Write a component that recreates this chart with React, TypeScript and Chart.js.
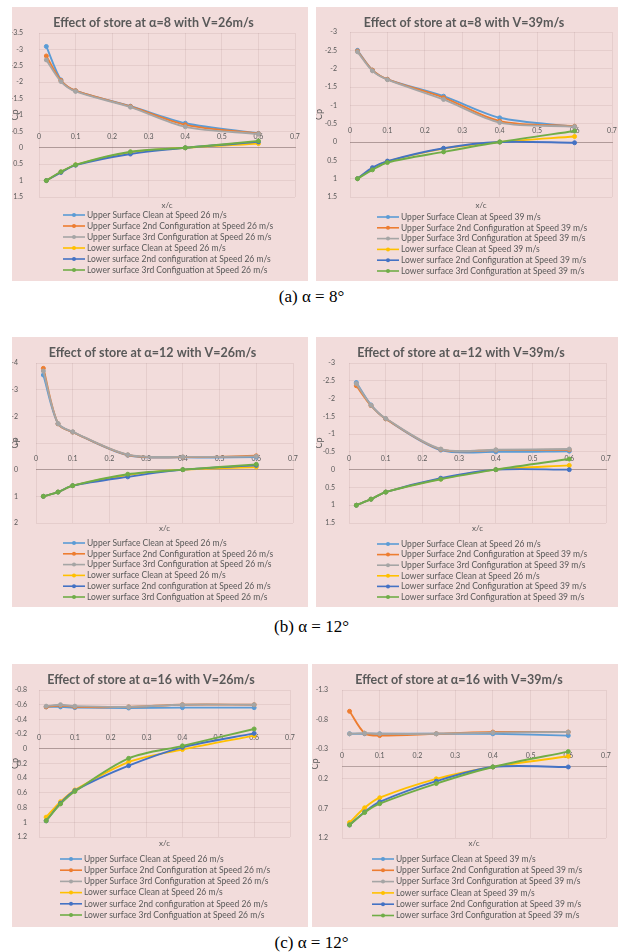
import React, { useEffect, useRef } from 'react';
import { Chart, registerables } from 'chart.js';

Chart.register(...registerables);

// ---------- data ----------
const X_POS = [0.02, 0.06, 0.1, 0.25, 0.4, 0.6];
const X_TICKS = [0, 0.1, 0.2, 0.3, 0.4, 0.5, 0.6, 0.7];

const Y_TICKS_A26 = [-3.5, -3, -2.5, -2, -1.5, -1, -0.5, 0, 0.5, 1, 1.5];
const Y_TICKS_A39 = [-3, -2.5, -2, -1.5, -1, -0.5, 0, 0.5, 1, 1.5];
const Y_TICKS_B26 = [-4, -3, -2, -1, 0, 1, 2];
const Y_TICKS_B39 = [-3, -2.5, -2, -1.5, -1, -0.5, 0, 0.5, 1, 1.5];
const Y_TICKS_C26 = [-0.8, -0.6, -0.4, -0.2, 0, 0.2, 0.4, 0.6, 0.8, 1, 1.2];
const Y_TICKS_C39 = [-1.3, -0.8, -0.3, 0.2, 0.7, 1.2];

// alpha = 8, V = 26
const A26_UPPER_CLEAN = [-3.09, -2.07, -1.74, -1.27, -0.75, -0.44];
const A26_UPPER_2ND = [-2.8, -2.05, -1.74, -1.26, -0.7, -0.43];
const A26_UPPER_3RD = [-2.68, -2.02, -1.72, -1.24, -0.64, -0.42];
const A26_LOWER_CLEAN = [1.0, 0.74, 0.52, 0.14, 0.0, -0.13];
const A26_LOWER_2ND = [1.0, 0.75, 0.53, 0.19, 0.0, -0.18];
const A26_LOWER_3RD = [1.0, 0.73, 0.52, 0.12, 0.0, -0.21];

// alpha = 8, V = 39
const A39_UPPER_CLEAN = [-2.5, -1.96, -1.71, -1.25, -0.66, -0.42];
const A39_UPPER_2ND = [-2.48, -1.96, -1.71, -1.21, -0.57, -0.43];
const A39_UPPER_3RD = [-2.46, -1.94, -1.7, -1.16, -0.53, -0.42];
const A39_LOWER_CLEAN = [1.0, 0.72, 0.53, 0.18, 0.0, -0.15];
const A39_LOWER_2ND = [1.0, 0.7, 0.52, 0.17, 0.0, 0.02];
const A39_LOWER_3RD = [1.0, 0.76, 0.56, 0.27, 0.0, -0.3];

// alpha = 12, V = 26
const B26_UPPER_CLEAN = [-3.55, -1.72, -1.41, -0.54, -0.46, -0.47];
const B26_UPPER_2ND = [-3.8, -1.72, -1.41, -0.55, -0.47, -0.52];
const B26_UPPER_3RD = [-3.7, -1.73, -1.42, -0.56, -0.48, -0.5];
const B26_LOWER_CLEAN = [1.0, 0.84, 0.6, 0.2, 0.0, -0.1];
const B26_LOWER_2ND = [1.0, 0.84, 0.6, 0.27, 0.0, -0.16];
const B26_LOWER_3RD = [1.0, 0.84, 0.6, 0.17, 0.0, -0.2];

// alpha = 12, V = 39
const B39_UPPER_CLEAN = [-2.45, -1.82, -1.43, -0.55, -0.5, -0.52];
const B39_UPPER_2ND = [-2.36, -1.8, -1.43, -0.57, -0.55, -0.56];
const B39_UPPER_3RD = [-2.42, -1.81, -1.44, -0.58, -0.56, -0.58];
const B39_LOWER_CLEAN = [1.0, 0.83, 0.63, 0.26, 0.0, -0.12];
const B39_LOWER_2ND = [1.0, 0.83, 0.63, 0.24, 0.0, 0.0];
const B39_LOWER_3RD = [1.0, 0.83, 0.63, 0.27, 0.0, -0.3];

// alpha = 16, V = 26
const C26_UPPER_CLEAN = [-0.57, -0.57, -0.56, -0.555, -0.56, -0.56];
const C26_UPPER_2ND = [-0.57, -0.59, -0.57, -0.57, -0.6, -0.6];
const C26_UPPER_3RD = [-0.58, -0.6, -0.58, -0.57, -0.6, -0.6];
const C26_LOWER_CLEAN = [0.93, 0.72, 0.56, 0.18, 0.01, -0.18];
const C26_LOWER_2ND = [0.98, 0.74, 0.57, 0.23, -0.02, -0.21];
const C26_LOWER_3RD = [0.98, 0.75, 0.58, 0.13, -0.04, -0.27];

// alpha = 16, V = 39
const C39_UPPER_CLEAN = [-0.56, -0.56, -0.56, -0.56, -0.56, -0.53];
const C39_UPPER_2ND = [-0.94, -0.57, -0.53, -0.56, -0.59, -0.59];
const C39_UPPER_3RD = [-0.56, -0.57, -0.56, -0.56, -0.58, -0.59];
const C39_LOWER_CLEAN = [0.94, 0.69, 0.52, 0.2, 0.0, -0.18];
const C39_LOWER_2ND = [0.98, 0.76, 0.59, 0.24, 0.0, 0.0];
const C39_LOWER_3RD = [0.98, 0.77, 0.62, 0.28, 0.0, -0.26];

const LABELS_26 = [
  'Upper Surface Clean at Speed 26 m/s',
  'Upper Surface 2nd Configuration at Speed 26 m/s',
  'Upper Surface 3rd Configuration at Speed 26 m/s',
  'Lower surface Clean at Speed 26 m/s',
  'Lower surface 2nd configuration at Speed 26 m/s',
  'Lower surface 3rd Configuation at Speed 26 m/s',
];
const LABELS_39 = [
  'Upper Surface Clean at Speed 39 m/s',
  'Upper Surface 2nd Configuration at Speed 39 m/s',
  'Upper Surface 3rd Configuration at Speed 39 m/s',
  'Lower surface Clean at Speed 39 m/s',
  'Lower surface 2nd Configuration at Speed 39 m/s',
  'Lower surface 3rd Configuration at Speed 39 m/s',
];
const LABELS_B39 = [
  'Upper Surface Clean at Speed 26 m/s',
  'Upper Surface 2nd Configuration at Speed 39 m/s',
  'Upper Surface 3rd Configuration at Speed 39 m/s',
  'Lower surface Clean at Speed 26 m/s',
  'Lower surface 2nd Configuration at Speed 39 m/s',
  'Lower surface 3rd Configuration at Speed 39 m/s',
];

const TITLES = [
  'Effect of store at α=8 with V=26m/s',
  'Effect of store at α=8 with V=39m/s',
  'Effect of store at α=12 with V=26m/s',
  'Effect of store at α=12 with V=39m/s',
  'Effect of store at α=16 with V=26m/s',
  'Effect of store at α=16 with V=39m/s',
];
const CAPTIONS = ['(a) α = 8°', '(b) α = 12°', '(c) α = 12°'];

// ---------- styles ----------
const COLORS = ['#5B9BD5', '#ED7D31', '#A5A5A5', '#FFC000', '#4472C4', '#70AD47'];
const BG = '#F2DCDB';
const TEXT = '#595959';
const GRID = 'rgba(120,80,80,0.10)';
const AXIS = 'rgba(110,90,90,0.45)';
const FONT = 'Lato, "Open Sans", sans-serif';

const excelLegend = {
  id: 'excelLegend',
  afterDraw(chart: any, _args: any, opts: any) {
    const ctx = chart.ctx;
    const ds = chart.data.datasets;
    ctx.save();
    ctx.font = `${opts.size}px ${FONT}`;
    ctx.textBaseline = 'middle';
    ctx.textAlign = 'left';
    const lineLen = 22;
    ds.forEach((d: any, i: number) => {
      const y = opts.y0 + i * opts.step;
      ctx.strokeStyle = d.borderColor;
      ctx.lineWidth = 1.6;
      ctx.beginPath();
      ctx.moveTo(opts.x0, y);
      ctx.lineTo(opts.x0 + lineLen, y);
      ctx.stroke();
      ctx.fillStyle = d.borderColor;
      ctx.beginPath();
      ctx.arc(opts.x0 + lineLen / 2, y, 2, 0, Math.PI * 2);
      ctx.fill();
      ctx.fillStyle = TEXT;
      ctx.fillText(d.label, opts.x0 + lineLen + 2, y);
    });
    ctx.restore();
  },
};

type Cfg = {
  title: string;
  labels: string[];
  series: number[][];
  yTicks: number[];
  w: number; h: number;
  plotLeft: number; plotRight: number; plotTop: number; plotBottom: number;
  titleY: number; xcY: number;
  legendX: number; legendY0: number; legendStep: number;
  tickPad: number;
};

function CpChart({ cfg }: { cfg: Cfg }) {
  const ref = useRef<HTMLCanvasElement>(null);
  useEffect(() => {
    const c = cfg;
    const titleLH = 12.5 * 1.2;
    const xbH = c.xcY - c.plotBottom + 4.8;
    const chart = new Chart(ref.current as HTMLCanvasElement, {
      type: 'line',
      data: {
        datasets: c.series.map((s, i) => ({
          label: c.labels[i],
          data: X_POS.map((x, j) => ({ x, y: s[j] })),
          borderColor: COLORS[i],
          backgroundColor: COLORS[i],
          pointBackgroundColor: COLORS[i],
          pointBorderColor: COLORS[i],
          borderWidth: 1.9,
          pointRadius: 2,
          pointBorderWidth: 1,
          tension: 0.3,
          fill: false,
          order: 5 - i,
        })),
      },
      options: {
        animation: false,
        responsive: false,
        events: [],
        layout: {
          padding: { top: 0, left: 0, right: c.w - c.plotRight, bottom: c.h - c.plotBottom - xbH },
        },
        plugins: {
          legend: { display: false },
          tooltip: { enabled: false },
          title: {
            display: true,
            text: c.title,
            color: TEXT,
            font: { family: FONT, size: 12.5, weight: 'bold', lineHeight: 1.2 },
            padding: { top: c.titleY - titleLH / 2, bottom: c.plotTop - c.titleY - titleLH / 2 },
          },
          excelLegend: { x0: c.legendX, y0: c.legendY0, step: c.legendStep, size: 8.5 },
        } as any,
        scales: {
          x: {
            type: 'linear',
            position: { y: 0 } as any,
            min: 0,
            max: 0.7,
            afterBuildTicks: (s: any) => { s.ticks = X_TICKS.map((v) => ({ value: v })); },
            afterFit: (s: any) => { s.height = 0; },
            ticks: {
              color: TEXT,
              font: { family: FONT, size: 7 },
              padding: -15,
              autoSkip: false,
              maxRotation: 0,
              callback: (v: any) => String(v),
            },
            grid: { color: GRID, drawTicks: false },
            border: { display: true, color: AXIS, width: 1 },
          },
          xb: {
            type: 'linear',
            axis: 'x',
            position: 'bottom',
            min: 0,
            max: 1,
            ticks: { display: false },
            grid: { display: false },
            border: { display: false },
            title: { display: true, text: 'x/c', color: TEXT, font: { family: FONT, size: 8 }, padding: 0 },
            afterFit: (s: any) => { s.height = xbH; },
          },
          y: {
            type: 'linear',
            position: 'left',
            reverse: true,
            min: c.yTicks[0],
            max: c.yTicks[c.yTicks.length - 1],
            afterBuildTicks: (s: any) => { s.ticks = c.yTicks.map((v) => ({ value: v })); },
            afterFit: (s: any) => { s.width = c.plotLeft; },
            ticks: {
              color: TEXT,
              font: { family: FONT, size: 7 },
              padding: c.tickPad,
              callback: (v: any) => String(v),
            },
            grid: { color: GRID, drawTicks: false },
            border: { display: false },
            title: {
              display: true,
              text: 'Cp',
              color: TEXT,
              font: { family: FONT, size: 9 },
              padding: { top: -2, bottom: 0 },
            },
          },
        } as any,
      },
      plugins: [excelLegend as any],
    });
    return () => chart.destroy();
  }, [cfg]);
  return (
    <canvas
      ref={ref}
      width={cfg.w}
      height={cfg.h}
      style={{ display: 'block', width: cfg.w, height: cfg.h }}
    />
  );
}

const CHARTS: { x: number; y: number; cfg: Cfg }[] = [
  {
    x: 12, y: 7,
    cfg: {
      title: TITLES[0], labels: LABELS_26,
      series: [A26_UPPER_CLEAN, A26_UPPER_2ND, A26_UPPER_3RD, A26_LOWER_CLEAN, A26_LOWER_2ND, A26_LOWER_3RD],
      yTicks: Y_TICKS_A26, w: 296, h: 274,
      plotLeft: 27, plotRight: 283, plotTop: 26, plotBottom: 190,
      titleY: 16, xcY: 198, legendX: 51, legendY0: 208, legendStep: 11, tickPad: 16,
    },
  },
  {
    x: 316, y: 7,
    cfg: {
      title: TITLES[1], labels: LABELS_39,
      series: [A39_UPPER_CLEAN, A39_UPPER_2ND, A39_UPPER_3RD, A39_LOWER_CLEAN, A39_LOWER_2ND, A39_LOWER_3RD],
      yTicks: Y_TICKS_A39, w: 302, h: 274,
      plotLeft: 34, plotRight: 296, plotTop: 25, plotBottom: 190,
      titleY: 16, xcY: 198, legendX: 61, legendY0: 210, legendStep: 10.8, tickPad: 13,
    },
  },
  {
    x: 12, y: 337,
    cfg: {
      title: TITLES[2], labels: LABELS_26,
      series: [B26_UPPER_CLEAN, B26_UPPER_2ND, B26_UPPER_3RD, B26_LOWER_CLEAN, B26_LOWER_2ND, B26_LOWER_3RD],
      yTicks: Y_TICKS_B26, w: 296, h: 270,
      plotLeft: 24, plotRight: 281, plotTop: 26, plotBottom: 186,
      titleY: 16, xcY: 191, legendX: 51, legendY0: 206, legendStep: 10.8, tickPad: 18,
    },
  },
  {
    x: 316, y: 337,
    cfg: {
      title: TITLES[3], labels: LABELS_B39,
      series: [B39_UPPER_CLEAN, B39_UPPER_2ND, B39_UPPER_3RD, B39_LOWER_CLEAN, B39_LOWER_2ND, B39_LOWER_3RD],
      yTicks: Y_TICKS_B39, w: 302, h: 270,
      plotLeft: 33, plotRight: 290, plotTop: 26, plotBottom: 186,
      titleY: 16, xcY: 191, legendX: 61, legendY0: 207, legendStep: 10.6, tickPad: 14,
    },
  },
  {
    x: 12, y: 664,
    cfg: {
      title: TITLES[4], labels: LABELS_26,
      series: [C26_UPPER_CLEAN, C26_UPPER_2ND, C26_UPPER_3RD, C26_LOWER_CLEAN, C26_LOWER_2ND, C26_LOWER_3RD],
      yTicks: Y_TICKS_C26, w: 296, h: 263,
      plotLeft: 27, plotRight: 278, plotTop: 26, plotBottom: 173,
      titleY: 16, xcY: 179, legendX: 48, legendY0: 195, legendStep: 11.2, tickPad: 12,
    },
  },
  {
    x: 312, y: 664,
    cfg: {
      title: TITLES[5], labels: LABELS_39,
      series: [C39_UPPER_CLEAN, C39_UPPER_2ND, C39_UPPER_3RD, C39_LOWER_CLEAN, C39_LOWER_2ND, C39_LOWER_3RD],
      yTicks: Y_TICKS_C39, w: 306, h: 263,
      plotLeft: 30, plotRight: 294, plotTop: 26, plotBottom: 174,
      titleY: 16, xcY: 179, legendX: 60, legendY0: 195, legendStep: 11.3, tickPad: 14,
    },
  },
];

const CAPTION_Y = [297, 627, 943];

export default function App() {
  return (
    <div style={{ position: 'absolute', left: 0, top: 0, width: 623, height: 952, background: '#fff', overflow: 'hidden' }}>
      {CHARTS.map((ch, i) => (
        <div key={i} style={{ position: 'absolute', left: ch.x, top: ch.y, width: ch.cfg.w, height: ch.cfg.h, background: BG }}>
          <CpChart cfg={ch.cfg} />
        </div>
      ))}
      {CAPTIONS.map((t, i) => (
        <div
          key={'c' + i}
          style={{
            position: 'absolute', left: 0, width: 623, top: CAPTION_Y[i] - 10, height: 20, lineHeight: '20px',
            textAlign: 'center', fontFamily: '"Liberation Serif", "Times New Roman", serif', fontSize: 17, color: '#000',
          }}
        >
          {t}
        </div>
      ))}
    </div>
  );
}
